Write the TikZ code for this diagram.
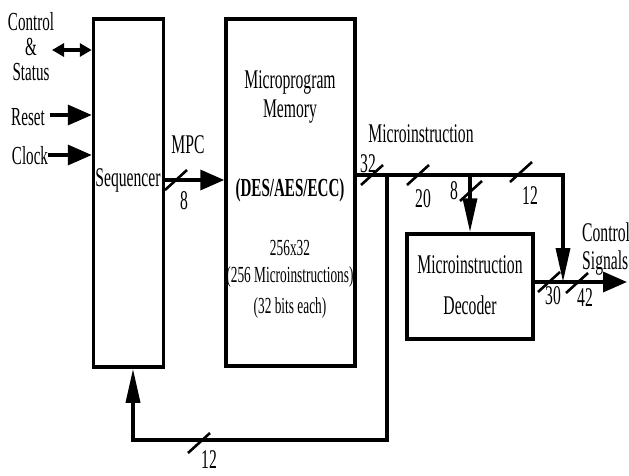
\documentclass[tikz,border=0pt]{standalone}
\usepackage{fontspec}
\setmainfont[FakeStretch=0.58]{Liberation Serif}
\usetikzlibrary{arrows.meta}

\tikzset{
  blk/.style={draw, line width=3.5pt, inner sep=0pt},
  txt/.style={font=\fontsize{27}{28}\selectfont, inner sep=0pt},
  small/.style={font=\fontsize{23}{24}\selectfont, inner sep=0pt},
  wire/.style={line width=3.5pt},
  harr/.style={wire, -{Triangle[length=24pt,width=20pt]}},
  varr/.style={wire, -{Triangle[length=34pt,width=14pt]}},
  darr/.style={wire, {Triangle[length=12pt,width=13pt]}-{Triangle[length=12pt,width=13pt]}},
  busmark/.pic={\draw[line width=2.6pt] (-11,10) -- (11,-10);}
}

\begin{document}
\begin{tikzpicture}[x=1pt,y=-1pt]

\useasboundingbox (0,0) rectangle (629,475);

%------------------------------------------------
% Blocks
%------------------------------------------------

\node[blk, minimum width=70, minimum height=348] (seq) at (128.5,193) {};
\node[blk, minimum width=129, minimum height=347] (mem) at (290.5,192.5) {};
\node[blk, minimum width=126, minimum height=105] (dec) at (470,286.5) {};

\node[txt] (seqtxt) at (128,180) {Sequencer};

\node[txt] (memA) at (290,82) {Microprogram};
\node[txt] (memB) at (290,112) {Memory};
\node[txt, font=\fontsize{26}{27}\selectfont\bfseries] (memC) at (290,190) {(DES/AES/ECC)};
\node[small] (memD) at (290,248) {256x32};
\node[small] (memE) at (290,277) {(256 Microinstructions)};
\node[small] (memF) at (290,308) {(32 bits each)};

\node[txt] (decA) at (470,265) {Microinstruction};
\node[txt] (decB) at (470,305) {Decoder};

%------------------------------------------------
% Inputs
%------------------------------------------------

\node[txt, align=center, font=\fontsize{26}{25}\selectfont] (ctl) at (31,47) {Control\\\&\\Status};
\node[txt, font=\fontsize{26}{27}\selectfont] (rst) at (28,117) {Reset};
\node[txt, font=\fontsize{26}{27}\selectfont] (clk) at (30,156) {Clock};

\coordinate (cs) at (52,50);
\coordinate (rs) at (50,115);
\coordinate (ck) at (48,155);

\draw[darr] (cs) -- (cs -| seq.west);
\draw[harr] (rs) -- (rs -| seq.west);
\draw[harr] (ck) -- (ck -| seq.west);

%------------------------------------------------
% MPC
%------------------------------------------------

\coordinate (mpc) at (0,180);
\draw[harr] (seq.east |- mpc) -- (mem.west |- mpc);
\pic at (176,180) {busmark};
\node[txt] (mpclbl) at (188,145) {MPC};
\node[txt] (mpcw) at (184,201) {8};

%------------------------------------------------
% Microinstruction bus
%------------------------------------------------

\coordinate (bus) at (0,175);
\coordinate (tap) at (387,175);
\coordinate (br) at (470,175);
\coordinate (sig) at (563,282);
\coordinate (fb) at (133,440);
\coordinate (out) at (627,282);

\draw[varr] (mem.east |- bus) -| (sig);
\draw[varr] (br) -- (dec.north);
\draw[varr] (tap) |- (fb) -- (fb |- seq.south);
\draw[harr] (dec.east |- sig) -- (out);

\node[txt] (milbl) at (421,134) {Microinstruction};
\node[txt] (sglbl) [anchor=west, align=left] at (582,249) {Control\\Signals};

\pic at (372,175) {busmark};
\node[txt] (w32) at (368,164) {32};
\pic at (418,175) {busmark};
\node[txt] (w20) at (423,199) {20};
\pic at (471,191) {busmark};
\node[txt] (w8) at (454,191) {8};
\pic at (521,172) {busmark};
\node[txt] (w12) at (530,196) {12};
\pic at (549,282) {busmark};
\node[txt] (w30) at (553,296) {30};
\pic at (577,283) {busmark};
\node[txt] (w42) at (585,298) {42};
\pic at (199,443) {busmark};
\node[txt] (wfb) at (209,460) {12};

\end{tikzpicture}
\end{document}
